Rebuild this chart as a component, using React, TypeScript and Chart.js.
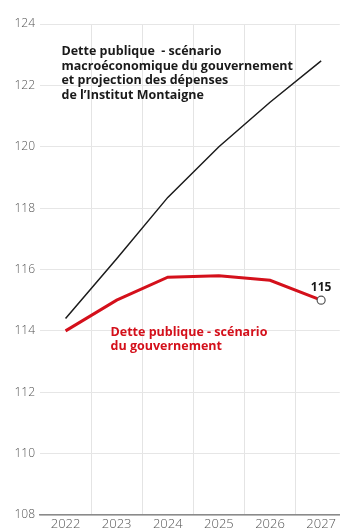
import React, { useEffect, useRef } from "react";
import { Chart, registerables } from "chart.js";

Chart.register(...registerables);

const years = [2022, 2023, 2024, 2025, 2026, 2027];
const detteMontaigne = [114.4, 116.35, 118.35, 120.0, 121.45, 122.8];
const detteGouvernement = [114.0, 115.0, 115.75, 115.8, 115.65, 115.0];
const yTicks = [108, 110, 112, 114, 116, 118, 120, 122, 124];
const titleLines = [
  "Dette publique  - scénario",
  "macroéconomique du gouvernement",
  "et projection des dépenses",
  "de l\u2019Institut Montaigne",
];
const redLines = ["Dette publique - scénario", "du gouvernement"];
const endLabel = "115";

const RED = "#d4101b";
const FONT = "'Open Sans', 'DejaVu Sans', sans-serif";

const annotationPlugin = {
  id: "annotations",
  afterDatasetsDraw(chart: any) {
    const ctx = chart.ctx;
    const x = chart.scales.x;
    const y = chart.scales.y;
    ctx.save();
    ctx.textBaseline = "middle";
    ctx.textAlign = "left";
    ctx.font = `bold 12.5px ${FONT}`;
    ctx.fillStyle = "#1a1a1a";
    const tx = x.getPixelForValue(2021.92);
    const ty = y.getPixelForValue(123.1);
    titleLines.forEach((l, i) => ctx.fillText(l, tx, ty + i * 14.6));
    ctx.fillStyle = RED;
    const rx = x.getPixelForValue(2022.88);
    const ry = y.getPixelForValue(113.95);
    redLines.forEach((l, i) => ctx.fillText(l, rx, ry + i * 14));
    ctx.fillStyle = "#1a1a1a";
    ctx.textAlign = "center";
    ctx.font = `bold 12px ${FONT}`;
    const last = years.length - 1;
    ctx.fillText(
      endLabel,
      x.getPixelForValue(years[last]),
      y.getPixelForValue(detteGouvernement[last]) - 13
    );
    ctx.restore();
  },
};

export default function App() {
  const ref = useRef<HTMLCanvasElement>(null);
  useEffect(() => {
    if (!ref.current) return;
    const halfTicks: number[] = [];
    for (let v = years[0] - 0.5; v <= years[years.length - 1] + 0.01; v += 0.5) halfTicks.push(v);
    const last = years.length - 1;
    const chart = new Chart(ref.current, {
      type: "line",
      data: {
        datasets: [
          {
            label: "Montaigne",
            data: years.map((yr, i) => ({ x: yr, y: detteMontaigne[i] })),
            borderColor: "#1c1c1c",
            borderWidth: 1.5,
            pointRadius: 0,
            tension: 0,
          },
          {
            label: "Gouvernement",
            data: years.map((yr, i) => ({ x: yr, y: detteGouvernement[i] })),
            borderColor: RED,
            borderWidth: 3,
            pointRadius: (c: any) => (c.dataIndex === last ? 4 : 0),
            pointBackgroundColor: "#ffffff",
            pointBorderColor: "#555555",
            pointBorderWidth: 1.2,
            tension: 0,
          },
        ],
      },
      options: {
        animation: false,
        responsive: false,
        layout: { padding: { top: 24, left: 0, right: 0, bottom: 0 } },
        plugins: { legend: { display: false }, tooltip: { enabled: false } },
        scales: {
          x: {
            type: "linear",
            min: years[0] - 0.5,
            max: 2027.365,
            afterBuildTicks: (s: any) => {
              s.ticks = halfTicks.map((v) => ({ value: v }));
            },
            afterFit: (s: any) => {
              s.height = 15;
            },
            ticks: {
              autoSkip: false,
              maxRotation: 0,
              padding: 1,
              color: "#555",
              font: { family: FONT, size: 13, weight: "300" as any },
              callback: (v: any) => (Math.abs(v - Math.round(v)) < 0.01 ? String(Math.round(v)) : ""),
            },
            grid: {
              drawTicks: false,
              color: (c: any) => {
                const v = c.tick ? c.tick.value : 0;
                if (Math.abs(v - (years[0] - 0.5)) < 0.01) return "rgba(0,0,0,0)";
                return Math.abs(v - Math.round(v)) > 0.01 ? "#e4e4e4" : "rgba(0,0,0,0)";
              },
            },
            border: { display: true, color: "#8a8a8a", width: 1.5 },
          },
          y: {
            min: yTicks[0],
            max: yTicks[yTicks.length - 1],
            afterBuildTicks: (s: any) => {
              s.ticks = yTicks.map((v) => ({ value: v }));
            },
            afterFit: (s: any) => {
              s.width = 40;
            },
            ticks: {
              padding: 5,
              color: "#555",
              font: { family: FONT, size: 12, weight: "300" as any },
            },
            grid: { drawTicks: false, color: "#e6e6e6" },
            border: { display: false },
          },
        },
      },
      plugins: [annotationPlugin],
    });
    return () => chart.destroy();
  }, []);
  return (
    <div style={{ position: "absolute", left: 0, top: 0, width: 345, height: 530, background: "#fff" }}>
      <canvas ref={ref} width={345} height={530} style={{ display: "block" }} />
    </div>
  );
}
